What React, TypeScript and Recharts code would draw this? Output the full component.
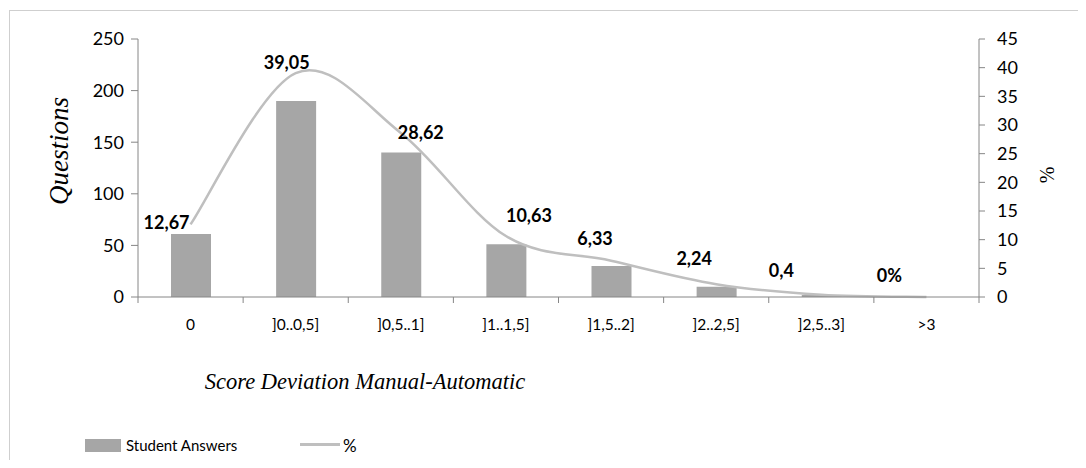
import { ComposedChart, Bar, Line, XAxis, YAxis, LabelList } from 'recharts';

const CATEGORIES = ['0', ']0..0,5]', ']0,5..1]', ']1..1,5]', ']1,5..2]', ']2..2,5]', ']2,5..3]', '>3'];
const STUDENT_ANSWERS = [61, 190, 140, 51, 30, 10, 2, 0];
const PERCENT = [12.67, 39.05, 28.62, 10.63, 6.33, 2.24, 0.4, 0];
const LEFT_TICKS = [0, 50, 100, 150, 200, 250];
const RIGHT_TICKS = [0, 5, 10, 15, 20, 25, 30, 35, 40, 45];

// where each percentage label sits relative to its point
const LABEL_SHIFT: Array<[number, number]> = [
  [-24, -2], [-9, -11], [20, -1], [23, -21], [-16, -23], [-22, -26], [-40, -25], [-37, -22],
];

const rows = CATEGORIES.map((name, i) => ({ name, answers: STUDENT_ANSWERS[i], pct: PERCENT[i] }));

const AXIS = '#868686';
const FONT = 'Lato, "Open Sans", sans-serif';
const SERIF = '"Liberation Serif", "Times New Roman", serif';

// smoothed line like a spreadsheet chart (Catmull-Rom through every point)
function smoothCurve(context: any) {
  let pts: number[][] = [];
  return {
    areaStart() {},
    areaEnd() {},
    lineStart() { pts = []; },
    point(x: number, y: number) { pts.push([+x, +y]); },
    lineEnd() {
      if (!pts.length) return;
      context.moveTo(pts[0][0], pts[0][1]);
      for (let i = 0; i < pts.length - 1; i++) {
        const p0 = pts[i - 1] || pts[i];
        const p1 = pts[i];
        const p2 = pts[i + 1];
        const p3 = pts[i + 2] || p2;
        context.bezierCurveTo(
          p1[0] + (p2[0] - p0[0]) / 6, p1[1] + (p2[1] - p0[1]) / 6,
          p2[0] - (p3[0] - p1[0]) / 6, p2[1] - (p3[1] - p1[1]) / 6,
          p2[0], p2[1],
        );
      }
    },
  };
}

function CategoryTick(props: any) {
  const { x, y, payload, index } = props;
  const half = payload && payload.offset ? payload.offset : 52.5;
  const last = index === CATEGORIES.length - 1;
  return (
    <g>
      <line x1={x - half} x2={x - half} y1={y} y2={y + 6} stroke={AXIS} />
      {last && <line x1={x + half} x2={x + half} y1={y} y2={y + 6} stroke={AXIS} />}
      <text x={x} y={y + 27} textAnchor="middle" dominantBaseline="central" fontSize={15.5} fill="#000" fontFamily={FONT}>
        {payload.value}
      </text>
    </g>
  );
}

function PctLabel(props: any) {
  const { x, y, value, index } = props;
  const [dx, dy] = LABEL_SHIFT[index] || [0, -14];
  const text = value === 0 ? '0%' : String(value).replace('.', ',');
  return (
    <text x={x + dx} y={y + dy} textAnchor="middle" dominantBaseline="central" fontSize={18} fontWeight="bold" fill="#000" fontFamily={FONT}>
      {text}
    </text>
  );
}

export default function App() {
  return (
    <div style={{ position: 'relative', width: 1078, height: 452, overflow: 'hidden', fontFamily: FONT }}>
      <div style={{ position: 'absolute', left: 1, top: 2, width: 1077, height: 460, borderLeft: '1px solid #cfcfcf', borderTop: '1px solid #cfcfcf' }} />
      <ComposedChart width={1078} height={452} data={rows} margin={{ top: 31, left: 70, right: 47, bottom: 123 }}>
        <XAxis dataKey="name" height={40} tickSize={0} tickMargin={0} tick={<CategoryTick />} stroke={AXIS} interval={0} />
        <YAxis
          yAxisId="left"
          width={60}
          domain={[0, 250]}
          ticks={LEFT_TICKS}
          tickSize={7}
          tickMargin={7}
          stroke={AXIS}
          tick={{ fill: '#000', fontSize: 18, fontFamily: FONT }}
        />
        <YAxis
          yAxisId="right"
          orientation="right"
          width={60}
          domain={[0, 45]}
          ticks={RIGHT_TICKS}
          tickSize={6}
          tickMargin={12}
          stroke={AXIS}
          tick={{ fill: '#000', fontSize: 18, fontFamily: FONT, textAnchor: 'start' }}
        />
        <Bar yAxisId="left" dataKey="answers" fill="#a6a6a6" barSize={40} isAnimationActive={false} />
        <Line
          yAxisId="right"
          dataKey="pct"
          type={smoothCurve as any}
          stroke="#bfbfbf"
          strokeWidth={2.5}
          dot={false}
          activeDot={false}
          isAnimationActive={false}
        >
          <LabelList dataKey="pct" content={<PctLabel />} />
        </Line>
      </ComposedChart>

      {/* axis titles */}
      <div style={{ position: 'absolute', left: 51, top: 143, transform: 'translate(-50%, -50%) rotate(-90deg)', fontFamily: SERIF, fontStyle: 'italic', fontSize: 27, whiteSpace: 'nowrap', color: '#000' }}>
        Questions
      </div>
      <div style={{ position: 'absolute', left: 1039, top: 167, transform: 'translate(-50%, -50%) rotate(-90deg)', fontFamily: SERIF, fontSize: 20, color: '#000' }}>
        %
      </div>
      <div style={{ position: 'absolute', left: 357, top: 374, transform: 'translate(-50%, -50%)', fontFamily: SERIF, fontStyle: 'italic', fontSize: 22.5, whiteSpace: 'nowrap', color: '#000' }}>
        Score Deviation Manual-Automatic
      </div>

      {/* legend */}
      <div style={{ position: 'absolute', left: 77, top: 431, width: 36, height: 13, background: '#a6a6a6' }} />
      <div style={{ position: 'absolute', left: 118, top: 437, transform: 'translateY(-50%)', fontSize: 15, color: '#000', whiteSpace: 'nowrap' }}>
        Student Answers
      </div>
      <div style={{ position: 'absolute', left: 292, top: 435, width: 40, height: 2.5, background: '#bfbfbf' }} />
      <div style={{ position: 'absolute', left: 335, top: 437, transform: 'translateY(-50%)', fontSize: 17, color: '#000' }}>
        %
      </div>
    </div>
  );
}
